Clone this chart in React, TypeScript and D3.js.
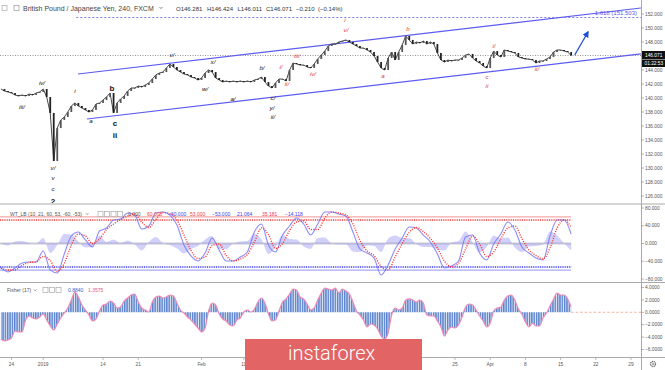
import * as d3 from 'd3'

// GBP/JPY closes sampled every 12 hours, first sample at day -1.5 (Dec 24 = day 0)
const closes = [
  141.29, 141.0, 140.86, 140.71, 140.43, 140.29, 140.43, 140.29, 140.57, 140.43,
  140.71, 140.86, 141.29, 140.14, 137.86, 131.0, 135.71, 136.86, 137.29, 138.0,
  138.86, 139.29, 138.86, 138.57, 138.29, 138.0, 138.29, 139.14, 139.29, 139.71,
  140.14, 140.71, 137.86, 139.29, 139.86, 140.29, 141.0, 141.43, 141.43, 141.71,
  141.57, 141.86, 142.14, 142.71, 143.29, 143.57, 143.71, 144.29, 144.86, 144.43,
  144.0, 143.71, 143.43, 143.29, 143.0, 142.86, 142.57, 142.86, 143.57, 144.0,
  143.71, 142.86, 142.57, 142.29, 142.43, 142.29, 142.43, 142.29, 142.43, 142.29,
  142.43, 142.29, 142.57, 142.71, 143.0, 142.29, 141.71, 141.43, 142.14, 142.71,
  142.71, 142.43, 144.0, 145.0, 144.86, 144.71, 144.71, 144.43, 144.29, 144.86,
  145.57, 146.14, 146.71, 147.43, 147.71, 147.71, 148.0, 148.14, 148.29, 148.0,
  147.71, 147.43, 147.14, 147.14, 146.86, 146.57, 146.0, 145.14, 144.29, 144.0,
  145.71, 146.57, 145.43, 146.57, 147.57, 148.86, 148.29, 147.71, 148.0, 147.86,
  148.14, 147.71, 148.0, 147.71, 146.43, 145.43, 145.14, 145.43, 145.29, 145.43,
  145.43, 145.71, 146.14, 146.29, 145.71, 145.29, 145.0, 144.57, 144.29, 145.71,
  146.71, 146.14, 145.86, 146.86, 146.71, 146.57, 146.43, 145.86, 145.71, 145.57,
  145.57, 145.43, 145.0, 145.29, 145.29, 145.57, 145.86, 146.57, 146.86, 146.86,
  146.71, 146.57, 146.07,
]
const startDay = -1.5

// WT_LB wave line, one value per day
const wt1 = [
  -55.1, -64.1, -55.1, -43.9, -41.6, -41.6, -16.9, -59.6, -66.4, -23.6,
  16.9, 25.9, 7.9, -7.9, 28.1, 34.9, 52.9, 55.1, 68.6, 64.1,
  32.6, 39.4, 68.6, 70.9, 64.1, 41.6, -3.4, -28.1, -39.4, -21.4,
  12.4, -14.6, -39.4, -39.4, -30.4, -19.1, 25.9, 43.9, -3.4, -19.1,
  19.1, 39.4, 57.4, 43.9, 19.1, 43.9, 70.9, 70.9, 66.4, 61.9,
  25.9, -12.4, -21.4, -32.6, -70.9, -48.4, -12.4, 12.4, 37.1, 34.9,
  19.1, 3.4, -23.6, -55.1, -50.6, -39.4, 14.6, 19.1, -21.4, -37.1,
  -1.1, 21.4, 48.4, 30.4, -7.9, -21.4, -32.6, -37.1, 16.9, 52.9,
  52.9, 21.06,
]
const wtLevels = [60, 53, -53, -60]

// Fisher transform, every 12 hours
const fisher = [
  -4.31, -4.63, -4.47, -4.15, -3.02, -3.18, -3.18, -1.24, -0.6, -0.92,
  -1.08, -0.76, -0.27, -1.24, -2.21, -2.85, -1.89, -0.92, -0.11, 0.69,
  1.98, 3.27, 2.47, 1.18, 0.37, -0.44, -1.4, -1.08, 0.21, 1.18,
  1.34, 1.82, 1.5, 0.69, 0.85, 1.82, 2.31, 2.79, 2.95, 1.66,
  0.69, 0.37, 0.05, 1.66, 2.47, 2.63, 2.31, 2.47, 2.79, 2.63,
  1.5, 0.37, -0.11, -0.76, -1.24, -1.89, -2.53, -3.18, -2.53, 0.21,
  1.5, 1.18, -0.27, -1.08, -1.4, -2.05, -2.21, -1.24, -0.92, 0.05,
  0.37, 0.05, 0.53, 1.66, 2.31, 1.5, -0.27, -1.4, -1.24, 0.21,
  1.66, 2.15, 2.95, 3.76, 3.6, 2.47, 2.15, 1.34, 0.37, 0.69,
  1.98, 3.11, 3.92, 3.76, 3.6, 3.92, 3.11, 3.76, 3.44, 2.95,
  1.66, 0.21, -0.44, -1.24, -2.37, -1.89, -2.05, -2.69, -3.82, -4.31,
  -3.34, -0.44, 0.69, 0.37, 0.69, 1.98, 2.15, 1.98, 1.66, 1.98,
  1.5, -0.44, -0.6, -0.6, -1.4, -2.37, -3.82, -2.85, -2.37, -2.53,
  -2.05, -0.76, 0.85, 1.34, 1.18, 0.37, -0.6, -1.4, -2.37, -1.73,
  0.21, 0.69, 0.85, 1.98, 2.63, 2.79, 1.98, 0.53, -0.27, -1.56,
  -2.37, -1.73, -2.21, -2.21, -0.92, -0.11, 1.02, 2.15, 3.11, 2.79,
  2.79, 2.15, 0.88,
]

const priceTicks = [152, 150, 148, 146, 144, 142, 140, 138, 136, 134, 132, 130, 128, 126]
const wtTicks = [80, 40, 0, -40, -80]
const fisherTicks = [4, 2, 0, -2, -4, -6]
const dateLabels = ['24', '2019', '14', '21', 'Feb', '11', '25', 'Apr', '8', '15', '22', '29']
const dateDays = [0, 4.5, 13, 18, 27, 33, 63, 68, 73, 78, 83, 88]

const ohlcText = ['O146.281', 'H146.424', 'L146.011', 'C146.071', '\u22120.210', '(\u22120.14%)']
const wtValues = ['0.000', '60.000', '\u221260.000', '53.000', '\u221253.000', '21.064', '35.181', '\u221214.118']
const wtValueColors = ['#555', '#f03c3c', '#3b3bf5', '#f03c3c', '#3b3bf5', '#3b3bf5', '#f03c3c', '#3b3bf5']

const lastClose = 146.071
const fibPrice = 151.503
// channel: [day, price] pairs
const upperChannel = [[9.45, 143.43], [89.4, 152.86]]
const lowerChannel = [[10.72, 137.0], [89.4, 146.29]]
const forecastArrow = [[80.0, 146.14], [81.9, 149.43]]

// wave labels: [text, day, price, bold]
const blackWaves: [string, number, number, boolean][] = [
  ['iv/', 4.33, 142.14, false], ['iii/', 1.49, 138.71, false], ['i', 9.02, 141.0, false],
  ['a', 11.29, 136.71, false], ['b', 14.28, 141.43, true], ['c', 14.7, 136.43, true],
  ['ii', 14.7, 134.71, true], ['v/', 5.89, 130.0, false], ['v', 5.89, 128.57, false],
  ['c', 5.89, 127.0, false], ['2', 5.89, 125.3, true], ['v/', 22.8, 146.14, false],
  ['w/', 27.49, 141.29, false], ['x/', 28.62, 145.14, false], ['a/', 31.46, 139.86, false],
  ['b/', 35.58, 144.29, false], ['c/', 37.14, 140.0, false], ['y/', 37.0, 138.57, false],
  ['ii/', 37.14, 137.29, false],
]
const redWaves: [string, number, number][] = [
  ['i/', 38.28, 144.43], ['ii/', 39.13, 142.0], ['iii/', 40.55, 146.0], ['iv/', 42.83, 143.43],
  ['i', 47.37, 151.14], ['v/', 47.51, 149.71], ['a', 52.77, 143.14], ['b', 56.32, 149.86],
  ['i/', 68.54, 147.43], ['c', 67.54, 143.0], ['ii', 67.54, 141.71], ['ii/', 74.64, 144.14],
]

const FONT = 'Liberation Sans, Arial, sans-serif'

export default function App() {
  const x = d3.scaleLinear().domain([0, 88]).range([11.5, 631])
  const yP = d3.scaleLinear().domain([126, 152]).range([196, 14])
  const yW = d3.scaleLinear().domain([-80, 80]).range([279, 208])
  const yF = d3.scaleLinear().domain([-6, 4]).range([349.5, 287.5])
  const right = 641

  const pDay = (i: number) => startDay + i * 0.5
  const wDay = (i: number) => startDay + i
  const lastX = x(pDay(closes.length - 1))

  const priceLine = d3.line<number>().x((_, i) => x(pDay(i))).y(d => yP(d))(closes) || ''

  const wt2 = wt1.map((v, i) => (i === 0 ? v : (v + wt1[i - 1]) / 2))
  const diff = wt1.map((v, i) => v - wt2[i])
  const wtCurve = d3.curveMonotoneX
  const wt1Path = d3.line<number>().x((_, i) => x(wDay(i))).y(d => yW(d)).curve(wtCurve)(wt1) || ''
  const wt2Path = d3.line<number>().x((_, i) => x(wDay(i))).y(d => yW(d)).curve(wtCurve)(wt2) || ''
  const diffPath = d3.area<number>().x((_, i) => x(wDay(i))).y0(yW(0)).y1(d => yW(d)).curve(wtCurve)(diff) || ''

  const fArea = d3.area<number>().x((_, i) => x(pDay(i))).y0(yF(0)).y1(d => yF(d)).curve(d3.curveMonotoneX)(fisher) || ''
  const fLine = d3.line<number>().x((_, i) => x(pDay(i))).y(d => yF(d)).curve(d3.curveMonotoneX)(fisher) || ''

  const chan = (c: number[][]) => ({ x1: x(c[0][0]), y1: yP(c[0][1]), x2: x(c[1][0]), y2: yP(c[1][1]) })
  const up = chan(upperChannel)
  const lo = chan(lowerChannel)
  const ar = chan(forecastArrow)

  const icon = (ix: number, iy: number, n: number) =>
    d3.range(n).map(k => (
      <rect key={k} x={ix + k * 6.5} y={iy} width={5} height={5} fill="#fff" stroke="#aaa" strokeWidth={0.7} />
    ))

  // running x for header pieces, measured by a rough char-width estimate
  const ohlcX = [176, 207, 237.5, 266, 296, 318]
  const wtX = [128, 147, 168, 190, 212, 237, 262, 285]

  return (
    <svg width={665} height={370} style={{ position: 'fixed', left: 0, top: 0, background: '#fff' }} fontFamily={FONT}>
      <defs>
        <clipPath id="cMain"><rect x={0} y={0} width={right} height={203} /></clipPath>
        <clipPath id="cWt"><rect x={0} y={204} width={right} height={78} /></clipPath>
        <clipPath id="cF"><rect x={0} y={283} width={right} height={74} /></clipPath>
        <pattern id="stripes" width={2.34} height={4} patternUnits="userSpaceOnUse">
          <rect width={2.34} height={4} fill="#dfe7f7" />
          <rect width={1.4} height={4} fill="#5b82cc" />
        </pattern>
        <marker id="arrowHead" viewBox="0 0 10 10" refX={8} refY={5} markerWidth={5} markerHeight={5} orient="auto">
          <path d="M0,0 L10,5 L0,10 z" fill="#1f4fd8" />
        </marker>
      </defs>
      <rect x={0} y={0} width={665} height={370} fill="#fff" />

      {/* ---------- main price panel ---------- */}
      <g clipPath="url(#cMain)">
        <line x1={0} x2={right} y1={yP(lastClose)} y2={yP(lastClose)} stroke="#777" strokeWidth={0.8} strokeDasharray="1,1.5" />
        <line x1={x(9.2)} x2={right} y1={yP(fibPrice)} y2={yP(fibPrice)} stroke="#5a5af0" strokeWidth={0.8} strokeDasharray="2,2" />
        <line {...up} stroke="#5c5cf2" strokeWidth={1.2} />
        <line {...lo} stroke="#5c5cf2" strokeWidth={1.2} />
        <path d={priceLine} fill="none" stroke="#333" strokeWidth={0.9} />
        {closes.map((c, i) => {
          if (i === 0) return null
          const o = closes[i - 1]
          const top = yP(Math.max(o, c))
          const h = Math.max(Math.abs(yP(o) - yP(c)), 0.8)
          return <rect key={i} x={x(pDay(i)) - 0.9} y={top} width={1.8} height={h} fill={c >= o ? '#555' : '#222'} />
        })}
        <line {...ar} stroke="#1f4fd8" strokeWidth={1.3} markerEnd="url(#arrowHead)" />
        <text x={right - 4} y={yP(fibPrice) - 2} textAnchor="end" fontSize={6} fill="#5a5af0">1.618 (151.503)</text>
        {blackWaves.map(([t, d, p, b], i) => (
          <text key={i} x={x(d)} y={yP(p)} dy="0.35em" textAnchor="middle" fontSize={b ? 8 : 6.2}
            fontWeight={b ? 'bold' : 'normal'} fontStyle={b ? 'normal' : 'italic'} fill="#111">{t}</text>
        ))}
        {redWaves.map(([t, d, p], i) => (
          <text key={i} x={x(d)} y={yP(p)} dy="0.35em" textAnchor="middle" fontSize={6.2} fontStyle="italic" fill="#e53935">{t}</text>
        ))}
      </g>

      {/* header */}
      {icon(2, 5.5, 1)}
      <rect x={14} y={5.5} width={5} height={5} fill="none" stroke="#999" strokeWidth={0.7} />
      <text x={23} y={10.5} fontSize={7} fill="#444">British Pound / Japanese Yen, 240, FXCM</text>
      <path d="M159.5,7 l1.5,1.6 l1.5,-1.6" fill="none" stroke="#555" strokeWidth={0.7} />
      {ohlcText.map((t, i) => (
        <text key={t} x={ohlcX[i]} y={10.5} fontSize={6} fill="#333">{t}</text>
      ))}

      {/* ---------- WT_LB panel ---------- */}
      <g clipPath="url(#cWt)">
        <line x1={0} x2={lastX} y1={yW(0)} y2={yW(0)} stroke="#cacad6" strokeWidth={2} />
        {wtLevels.map(l => {
          const red = l > 0
          const outer = Math.abs(l) === 60
          return (
            <line key={l} x1={0} x2={lastX} y1={yW(l)} y2={yW(l)}
              stroke={red ? (outer ? '#f6a8a8' : '#f03c3c') : (outer ? '#a8a8ff' : '#3b3bf5')}
              strokeWidth={outer ? 1.2 : 1.5} strokeDasharray={outer ? undefined : '1,0.8'} />
          )
        })}
        <path d={diffPath} fill="#8c8cf0" fillOpacity={0.4} />
        <path d={wt1Path} fill="none" stroke="#6f6ff8" strokeWidth={1.1} strokeOpacity={0.8} />
        <path d={wt2Path} fill="none" stroke="#ff2d2d" strokeWidth={1.4} strokeDasharray="1,1.4" />
      </g>
      <text x={10} y={216} fontSize={5} fill="#555">WT_LB (10, 21, 60, 53, -60, -53)</text>
      <path d="M86,213.3 l1.2,1.3 l1.2,-1.3" fill="none" stroke="#555" strokeWidth={0.6} />
      {icon(98, 211.5, 4)}
      {wtValues.map((t, i) => (
        <text key={t} x={wtX[i]} y={216} fontSize={5} fill={wtValueColors[i]}>{t}</text>
      ))}

      {/* ---------- Fisher panel ---------- */}
      <line x1={lastX} x2={right} y1={yF(0)} y2={yF(0)} stroke="#f5a08a" strokeWidth={0.8} strokeDasharray="2.5,2" />
      <g clipPath="url(#cF)">
        <path d={fArea} fill="url(#stripes)" />
        <path d={fLine} fill="none" stroke="#f08ab4" strokeWidth={1.2} />
      </g>
      <text x={7} y={292} fontSize={5} fill="#555">Fisher (17)</text>
      <path d="M34,289.5 l1.2,1.3 l1.2,-1.3" fill="none" stroke="#555" strokeWidth={0.6} />
      {icon(43, 287.5, 3)}
      <text x={68} y={292} fontSize={5} fill="#3b5bd0">0.8840</text>
      <text x={88} y={292} fontSize={5} fill="#e8558c">1.3575</text>

      {/* ---------- frame / separators ---------- */}
      <line x1={0} x2={665} y1={204} y2={204} stroke="#aaa" strokeWidth={1} />
      <line x1={0} x2={665} y1={282.5} y2={282.5} stroke="#aaa" strokeWidth={1} />
      <line x1={0} x2={665} y1={357.5} y2={357.5} stroke="#aaa" strokeWidth={1} />
      <line x1={right + 0.5} x2={right + 0.5} y1={0} y2={370} stroke="#aaa" strokeWidth={1} />

      {/* price axis */}
      {priceTicks.map(t => (
        <g key={t}>
          <line x1={right} x2={right + 3} y1={yP(t)} y2={yP(t)} stroke="#888" strokeWidth={0.6} />
          <text x={645} y={yP(t)} dy="0.35em" fontSize={4.8} fill="#555">{t.toFixed(3)}</text>
        </g>
      ))}
      <rect x={642} y={51} width={23} height={8} fill="#111" />
      <text x={645} y={55} dy="0.35em" fontSize={4.8} fill="#fff">{lastClose.toFixed(3)}</text>
      <rect x={642} y={59.5} width={23} height={7.5} fill="#111" />
      <text x={644.5} y={63.3} dy="0.35em" fontSize={4.8} fill="#fff">01:22:53</text>

      {wtTicks.map(t => (
        <g key={t}>
          <line x1={right} x2={right + 3} y1={yW(t)} y2={yW(t)} stroke="#888" strokeWidth={0.6} />
          <text x={645} y={yW(t)} dy="0.35em" fontSize={4.8} fill="#555">{(t < 0 ? '\u2212' : '') + Math.abs(t).toFixed(3)}</text>
        </g>
      ))}
      {fisherTicks.map(t => (
        <g key={t}>
          <line x1={right} x2={right + 3} y1={yF(t)} y2={yF(t)} stroke="#888" strokeWidth={0.6} />
          <text x={645} y={yF(t)} dy="0.35em" fontSize={4.8} fill="#555">{(t < 0 ? '\u2212' : '') + Math.abs(t).toFixed(4)}</text>
        </g>
      ))}

      {/* time axis */}
      {dateLabels.map((l, i) => (
        <g key={l + i}>
          <line x1={x(dateDays[i])} x2={x(dateDays[i])} y1={358} y2={360} stroke="#888" strokeWidth={0.6} />
          <text x={x(dateDays[i])} y={366} textAnchor="middle" fontSize={4.8} fill="#555">{l}</text>
        </g>
      ))}
      <circle cx={653} cy={364} r={2.6} fill="none" stroke="#666" strokeWidth={1.1} strokeDasharray="1.2,0.6" />
      <circle cx={653} cy={364} r={1} fill="none" stroke="#666" strokeWidth={0.6} />

      {/* watermark */}
      <rect x={245} y={339} width={177} height={31} fill="#e26464" />
      <text x={288} y={360} fontSize={20} fill="#fff" fontFamily="Roboto, Liberation Sans, sans-serif" fontWeight={300}>instaforex</text>
    </svg>
  )
}
